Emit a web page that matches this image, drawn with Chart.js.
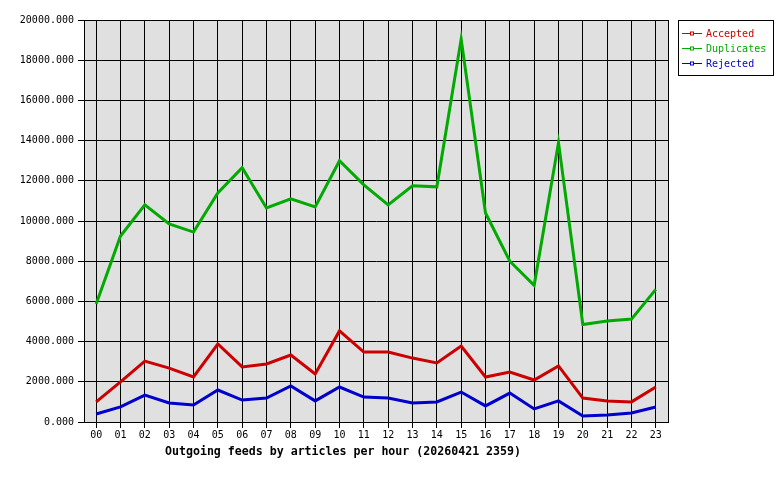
<!DOCTYPE html>
<html>
<head>
<meta charset="utf-8">
<script src="https://cdn.jsdelivr.net/npm/chart.js@4"></script>
<style>
  body { margin: 0; background: #fff; }
</style>
</head>
<body>
<canvas id="feeds" width="780" height="480"></canvas>
<script>
// hours of the day
const hours = ['00','01','02','03','04','05','06','07','08','09','10','11',
               '12','13','14','15','16','17','18','19','20','21','22','23'];

// articles per hour
const accepted   = [1000, 2000, 3030, 2680, 2240, 3880, 2740, 2890, 3330, 2390, 4530, 3480,
                    3480, 3180, 2940, 3780, 2240, 2490, 2090, 2790, 1190, 1050, 1000, 1740];
const duplicates = [5870, 9250, 10800, 9850, 9450, 11400, 12650, 10650, 11100, 10700, 13000, 11800,
                    10800, 11750, 11700, 19050, 10400, 8000, 6800, 13900, 4850, 5020, 5120, 6600];
const rejected   = [400, 750, 1340, 950, 850, 1590, 1090, 1190, 1790, 1050, 1740, 1240,
                    1190, 950, 1000, 1490, 800, 1440, 650, 1050, 300, 350, 450, 750];

const chartTitle = 'Outgoing feeds by articles per hour (20260421 2359)';
const mono = 'DejaVu Sans Mono';

// grey plot background plus a frame round it
const plotFrame = {
    id: 'plotFrame',
    beforeDraw: (chart) => {
        const { ctx, chartArea: a } = chart;
        ctx.save();
        ctx.fillStyle = '#e0e0e0';
        ctx.fillRect(a.left, a.top, a.right - a.left, a.bottom - a.top);
        ctx.restore();
    },
    afterDraw: (chart) => {
        const { ctx, chartArea: a } = chart;
        ctx.save();
        ctx.strokeStyle = '#000';
        ctx.lineWidth = 1;
        ctx.strokeRect(a.left + 0.5, a.top + 0.5, a.right - a.left, a.bottom - a.top);
        ctx.restore();
    }
};

// boxed legend in the top right corner + the caption under the axis
const boxLegend = {
    id: 'boxLegend',
    afterDraw: (chart) => {
        const ctx = chart.ctx;
        const bx = 678, by = 20, bw = 95, bh = 55;
        ctx.save();
        ctx.fillStyle = '#fff';
        ctx.fillRect(bx, by, bw, bh);
        ctx.strokeStyle = '#000';
        ctx.lineWidth = 1;
        ctx.strokeRect(bx + 0.5, by + 0.5, bw, bh);

        ctx.font = `10px "${mono}"`;
        ctx.textBaseline = 'middle';
        chart.data.datasets.forEach((ds, i) => {
            const y = by + 13.5 + i * 15;
            ctx.strokeStyle = ds.borderColor;
            ctx.beginPath();
            ctx.moveTo(bx + 4, y);
            ctx.lineTo(bx + 24, y);
            ctx.stroke();
            ctx.fillStyle = '#fff';
            ctx.fillRect(bx + 12, y - 2, 4, 4);
            ctx.strokeRect(bx + 12.5, y - 1.5, 3, 3);
            ctx.fillStyle = ds.borderColor;
            ctx.fillText(ds.label, bx + 28, y + 1);
        });

        ctx.fillStyle = '#000';
        ctx.font = `bold 11.6px "${mono}"`;
        ctx.textAlign = 'center';
        ctx.fillText(chartTitle, 343, 452);
        ctx.restore();
    }
};

new Chart(document.getElementById('feeds').getContext('2d'), {
    type: 'line',
    data: {
        labels: hours,
        datasets: [
            { label: 'Accepted',   data: accepted,   borderColor: '#cc0000' },
            { label: 'Duplicates', data: duplicates, borderColor: '#00aa00' },
            { label: 'Rejected',   data: rejected,   borderColor: '#0000cc' }
        ]
    },
    options: {
        responsive: false,
        animation: false,
        layout: { padding: { top: 20, right: 112, bottom: 0, left: 0 } },
        elements: {
            line: { borderWidth: 3, tension: 0, borderJoinStyle: 'miter' },
            point: { radius: 0, hoverRadius: 0 }
        },
        plugins: {
            legend: { display: false },
            tooltip: { enabled: false }
        },
        scales: {
            x: {
                offset: true,
                grid: { color: '#000', offset: false, tickLength: 6, tickColor: '#000' },
                border: { color: '#000' },
                ticks: { color: '#000', font: { family: mono, size: 10 }, padding: 1,
                         maxRotation: 0, autoSkip: false },
                afterFit: (s) => { s.height = 58; }
            },
            y: {
                min: 0,
                max: 20000,
                grid: { color: '#000', tickLength: 6, tickColor: '#000' },
                border: { color: '#000' },
                ticks: { stepSize: 2000, color: '#000', font: { family: mono, size: 10 }, padding: 4,
                         callback: (v) => v.toFixed(3) },
                afterFit: (s) => { s.width = 84; }
            }
        }
    },
    plugins: [plotFrame, boxLegend]
});
</script>
</body>
</html>
